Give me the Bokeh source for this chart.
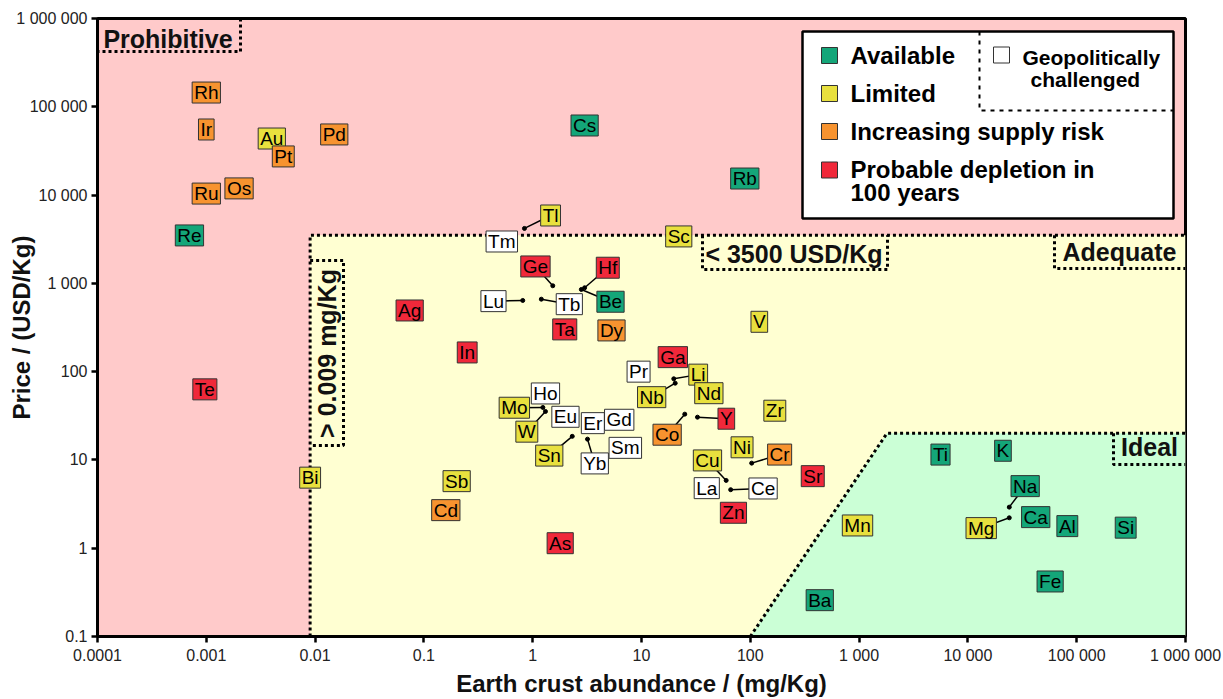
import math
from bokeh.plotting import figure
from bokeh.models import FixedTicker, ColumnDataSource
from bokeh.core.properties import value
from bokeh.embed import file_html
from bokeh.resources import INLINE

# ---------------- data ----------------
X_RANGE = (1e-4, 1e6)
Y_RANGE = (0.1, 1e6)
X_TICKS = [1e-4, 1e-3, 0.01, 0.1, 1, 10, 100, 1000, 10000, 100000, 1000000]
X_TICK_LABELS = ["0.0001", "0.001", "0.01", "0.1", "1", "10", "100",
                 "1 000", "10 000", "100 000", "1 000 000"]
Y_TICKS = [0.1, 1, 10, 100, 1000, 10000, 100000, 1000000]
Y_TICK_LABELS = ["0.1", "1", "10", "100", "1 000", "10 000", "100 000", "1 000 000"]
X_TITLE = "Earth crust abundance / (mg/Kg)"
Y_TITLE = "Price / (USD/Kg)"

# region thresholds
MIN_ABUNDANCE = 0.009      # mg/Kg
MAX_PRICE = 3500           # USD/Kg
IDEAL_X = [100, 1800, 1e6, 1e6]
IDEAL_Y = [0.1, 20, 20, 0.1]

ELEMENTS = ["Rh", "Ir", "Au", "Pt", "Pd", "Ru", "Os", "Re", "Te", "Bi",
            "Ag", "Cs", "Rb", "Tl", "Tm", "Sc", "Ge", "Hf", "Lu", "Tb",
            "Be", "Ta", "Dy", "In", "V", "Ga", "Pr", "Li", "Nb", "Nd",
            "Ho", "Mo", "W", "Eu", "Er", "Gd", "Sm", "Sn", "Yb", "Co",
            "Y", "Zr", "Ni", "Cr", "Cu", "La", "Ce", "Sr", "Zn", "Sb",
            "Cd", "As", "Mn", "Ti", "K", "Na", "Mg", "Ca", "Al", "Si",
            "Fe", "Ba"]
ABUNDANCE = [0.001, 0.001, 0.004, 0.0051, 0.015, 0.001, 0.002, 0.0007, 0.00097, 0.009,
             0.074, 3.0, 89, 0.84, 0.52, 22, 1.53, 3.0, 0.81, 1.2,
             2.8, 1.97, 5.3, 0.25, 121, 19.4, 9.4, 19.8, 20.4, 41.6,
             1.31, 1.24, 1.31, 2.0, 3.57, 6.24, 7.1, 2.31, 3.19, 25,
             32.7, 168, 84, 103, 60, 39.8, 66, 375, 70, 0.2,
             0.159, 1.79, 967, 5600, 21000, 24000, 24000, 42000, 82000, 282000,
             57000, 435]
PRICE = [145000, 55300, 43700, 27400, 48600, 10400, 11900, 3490, 63, 6.3,
         493, 61400, 15400, 4190, 2980, 3400, 939, 891, 640, 662,
         853, 301, 293, 165, 367, 146, 100, 83, 74, 57,
         56.6, 39.3, 35.4, 30.8, 26.1, 28.5, 13.7, 18.5, 17.2, 33,
         30.5, 36.1, 13.9, 9.2, 5.86, 4.79, 4.6, 6.55, 2.52, 5.75,
         2.7, 1.14, 1.81, 11.5, 12.7, 2.92, 2.21, 2.25, 1.78, 1.71,
         0.42, 0.258]
CATEGORY = ["Increasing", "Increasing", "Limited", "Increasing", "Increasing",
            "Increasing", "Increasing", "Available", "Depletion", "Limited",
            "Depletion", "Available", "Available", "Limited", "Geopolitical",
            "Limited", "Depletion", "Depletion", "Geopolitical", "Geopolitical",
            "Available", "Depletion", "Increasing", "Depletion", "Limited",
            "Depletion", "Geopolitical", "Limited", "Limited", "Limited",
            "Geopolitical", "Limited", "Limited", "Geopolitical", "Geopolitical",
            "Geopolitical", "Geopolitical", "Limited", "Geopolitical", "Increasing",
            "Depletion", "Limited", "Limited", "Increasing", "Limited",
            "Geopolitical", "Geopolitical", "Depletion", "Depletion", "Limited",
            "Increasing", "Depletion", "Limited", "Available", "Available",
            "Available", "Limited", "Available", "Available", "Available",
            "Available", "Available"]
# labels moved away from their point in crowded places (abundance, price)
LABEL_AT = {
    "Tl": (1.46, 5870), "Ge": (1.06, 1554), "Hf": (4.9, 1503), "Lu": (0.436, 629),
    "Tb": (2.17, 581), "Be": (5.19, 619), "Li": (33.2, 92.5), "Nb": (12.4, 51.4),
    "Mo": (0.678, 39.0), "W": (0.883, 20.9), "Sn": (1.42, 11.2), "Yb": (3.72, 9.13),
    "Co": (17.2, 19.3), "Y": (60.2, 29.3), "Cr": (186, 11.5), "Cu": (40.4, 9.87),
    "Ce": (131, 4.75), "Na": (33600, 5.05), "Mg": (13250, 1.69),
}

CATEGORY_ORDER = ["Available", "Limited", "Increasing", "Depletion", "Geopolitical"]
CATEGORY_NAMES = ["Available", "Limited", "Increasing supply risk",
                  "Probable depletion in\n100 years", "Geopolitically\nchallenged"]
COLORS = {"Available": "#14A679", "Limited": "#E8E03E", "Increasing": "#F7932F",
          "Depletion": "#F0283A", "Geopolitical": "#FFFFFF"}

# ---------------- figure ----------------
FW, FH = 1088, 618
LX0, LX1 = math.log10(X_RANGE[0]), math.log10(X_RANGE[1])
LY0, LY1 = math.log10(Y_RANGE[0]), math.log10(Y_RANGE[1])


def fx(px):
    """frame pixel offset (from left) -> data x"""
    return 10 ** (LX0 + (LX1 - LX0) * px / FW)


def fy(py):
    """frame pixel offset (from top) -> data y"""
    return 10 ** (LY1 - (LY1 - LY0) * py / FH)


FONT = "Liberation Sans"

p = figure(width=1223, height=699, x_axis_type="log", y_axis_type="log",
           x_range=X_RANGE, y_range=Y_RANGE, output_backend="svg",
           toolbar_location=None, min_border_left=97, min_border_right=38,
           min_border_top=18, min_border_bottom=63)
p.background_fill_color = "#FFCACA"
p.border_fill_color = "white"
p.grid.visible = False
p.outline_line_color = "black"
p.outline_line_width = 3

for ax, ticks, labels, title in ((p.xaxis[0], X_TICKS, X_TICK_LABELS, X_TITLE),
                                 (p.yaxis[0], Y_TICKS, Y_TICK_LABELS, Y_TITLE)):
    ax.ticker = FixedTicker(ticks=ticks, minor_ticks=[])
    ax.major_label_overrides = dict(zip(ticks, labels))
    ax.axis_line_width = 3
    ax.axis_line_color = "black"
    ax.major_tick_line_width = 2.5
    ax.major_tick_line_color = "black"
    ax.major_tick_out = 6
    ax.major_tick_in = 0
    ax.minor_tick_line_color = None
    ax.major_label_text_font = FONT
    ax.major_label_text_font_size = "16px"
    ax.major_label_text_color = "#222222"
    ax.major_label_standoff = 4
    ax.axis_label = title
    ax.axis_label_text_font = FONT
    ax.axis_label_text_font_style = "bold"
    ax.axis_label_text_font_size = "24px"
    ax.axis_label_text_color = "#111111"

p.xaxis[0].axis_label_standoff = 3
p.yaxis[0].axis_label_standoff = -22

# regions
p.quad(left=MIN_ABUNDANCE, right=X_RANGE[1], bottom=Y_RANGE[0], top=MAX_PRICE,
       fill_color="#FFFFD2", line_color=None)
p.patch(IDEAL_X, IDEAL_Y, fill_color="#CBFFD6", line_color=None)

DOT = dict(line_color="black", line_width=3, line_dash="3 3")
p.line([MIN_ABUNDANCE, MIN_ABUNDANCE, X_RANGE[1]], [Y_RANGE[0], MAX_PRICE, MAX_PRICE], **DOT)
p.line(IDEAL_X[:3], IDEAL_Y[:3], **DOT)

# dotted label boxes
p.line([fx(143), fx(143), fx(0)], [fy(0), fy(33), fy(33)], **DOT)
p.line([fx(605), fx(605), fx(790), fx(790)], [MAX_PRICE, fy(251), fy(251), MAX_PRICE], **DOT)
p.line([fx(957), fx(957), fx(FW)], [MAX_PRICE, fy(250), fy(250)], **DOT)
p.line([MIN_ABUNDANCE, fx(246), fx(246), MIN_ABUNDANCE], [fy(242), fy(242), fy(427), fy(427)], **DOT)
p.line([fx(1016), fx(1016), fx(FW)], [IDEAL_Y[1], fy(446), fy(446)], **DOT)

REGION_TXT = dict(text_font=value(FONT), text_font_style="bold", text_font_size="25px",
                  text_align="center", text_baseline="middle", text_color="#111111")
p.text(x=[fx(70.5)], y=[fy(20)], text=["Prohibitive"], **REGION_TXT)
p.text(x=[fx(696.5)], y=[fy(235)], text=["< 3500 USD/Kg"], **REGION_TXT)
p.text(x=[fx(1022)], y=[fy(233)], text=["Adequate"], **REGION_TXT)
p.text(x=[fx(1052)], y=[fy(428)], text=["Ideal"], **REGION_TXT)
p.text(x=[fx(229)], y=[fy(335)], text=["> 0.009 mg/Kg"], angle=math.pi / 2, **REGION_TXT)

# elements
lx = [LABEL_AT.get(e, (a, pr))[0] for e, a, pr in zip(ELEMENTS, ABUNDANCE, PRICE)]
ly = [LABEL_AT.get(e, (a, pr))[1] for e, a, pr in zip(ELEMENTS, ABUNDANCE, PRICE)]
src = ColumnDataSource(dict(sym=ELEMENTS, x=ABUNDANCE, y=PRICE, lx=lx, ly=ly,
                            fill=[COLORS[c] for c in CATEGORY]))
moved = [i for i, e in enumerate(ELEMENTS) if e in LABEL_AT]
lead = ColumnDataSource(dict(x=[ABUNDANCE[i] for i in moved], y=[PRICE[i] for i in moved],
                             lx=[lx[i] for i in moved], ly=[ly[i] for i in moved]))
p.segment(x0="x", y0="y", x1="lx", y1="ly", source=lead, line_color="black", line_width=1.5)
p.scatter(x="x", y="y", source=lead, size=4, color="black")
p.text(x="lx", y="ly", text="sym", source=src, text_font=value(FONT),
       text_font_size="19px", text_align="center", text_baseline="middle",
       text_color="black", background_fill_color="fill",
       border_line_color="#333333", border_line_width=1,
       padding=dict(left=2, right=2, top=0, bottom=0))

# legend
p.quad(left=fx(705), right=fx(1076), top=fy(13), bottom=fy(200),
       fill_color="white", line_color="black", line_width=2.5)
p.line([fx(882), fx(882), fx(1076)], [fy(13), fy(92), fy(92)],
       line_color="black", line_width=2, line_dash="4 5")
sq_x = [fx(732), fx(732), fx(732), fx(732), fx(904)]
sq_y = [fy(37), fy(75), fy(113), fy(151.5), fy(36.5)]
p.scatter(x=sq_x, y=sq_y, marker="square", size=16,
          fill_color=[COLORS[c] for c in CATEGORY_ORDER], line_color="#333333", line_width=1)
LEG = dict(text_font=value(FONT), text_font_style="bold", text_color="black",
           text_baseline="middle", text_align="left")
p.text(x=[fx(753)] * 3, y=[fy(37), fy(75), fy(113)], text=CATEGORY_NAMES[:3],
       text_font_size="24px", **LEG)
p.text(x=[fx(753)] * 2, y=[fy(150.5), fy(173.5)], text=CATEGORY_NAMES[3].split("\n"),
       text_font_size="24px", **LEG)
p.text(x=[fx(925), fx(933)], y=[fy(38.5), fy(61)], text=CATEGORY_NAMES[4].split("\n"),
       text_font_size="21px", **LEG)

open("out.html", "w").write(file_html(p, INLINE))
